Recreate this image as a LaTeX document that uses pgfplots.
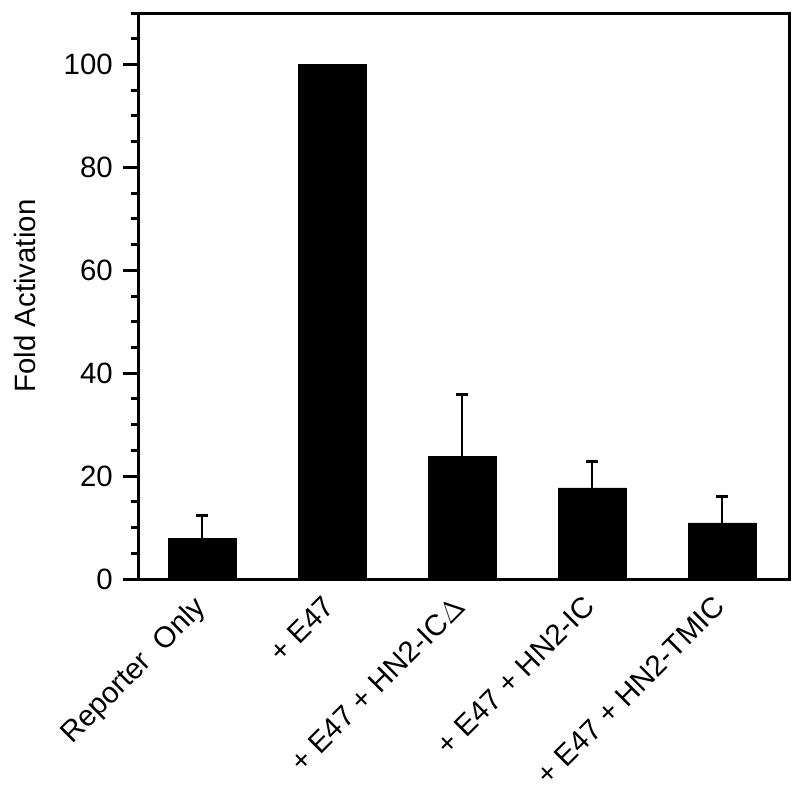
\documentclass[border=0pt]{standalone}
\usepackage{fontspec}
\setmainfont{Liberation Sans}
\usepackage{pgfplots}
\pgfplotsset{compat=1.18}
\begin{document}
\fontsize{14.7}{17}\selectfont
\begin{tikzpicture}
\begin{axis}[
    name=ax,
    scale only axis,
    width=325pt, height=283pt,
    ybar, bar width=34pt, bar shift=0pt,
    xmin=-0.485, xmax=4.515,
    ymin=0, ymax=110,
    ytick={0,20,...,100},
    minor ytick={0,5,...,110},
    ytick pos=left,
    tick align=outside,
    major tick length=8pt,
    minor tick length=4pt,
    xtick={0,1,2,3,4},
    xticklabels={Reporter\ \ Only, + E47, + E47 + HN2-IC$\Delta$, + E47 + HN2-IC, + E47 + HN2-TMIC},
    xtick style={draw=none},
    xticklabel style={rotate=45, anchor=north east, inner sep=1pt, xshift=-2pt, yshift=5pt},
    every tick/.style={black, line width=1.5pt},
    axis line style={line width=1.5pt},
    ylabel={Fold Activation},
    ylabel style={at={(ticklabel cs:0.5,4pt)}},
    /pgf/number format/assume math mode=true,
    ticklabel style={font=\fontsize{14.7}{17}\selectfont},
    label style={font=\fontsize{14.7}{17}\selectfont},
]
% bars with one-sided error bars
\addplot[fill=black, draw=black,
    error bars/.cd, y dir=plus, y explicit,
    error bar style={line width=1.3pt},
    error mark options={rotate=90, mark size=3pt, line width=1.4pt}]
    table[x=x, y=y, y error=e] {
x y e
0 7.8 4.5
2 23.9 11.9
3 17.7 5.1
4 10.9 5.1
};
% E47 has no error bar
\addplot[fill=black, draw=black] table[x=x, y=y] {
x y
1 100
};
\end{axis}
\pgfresetboundingbox
\path[use as bounding box] ([shift={(-69.5pt,-105pt)}]ax.south west) rectangle ([shift={(5.5pt,6.5pt)}]ax.north east);
\end{tikzpicture}
\end{document}
